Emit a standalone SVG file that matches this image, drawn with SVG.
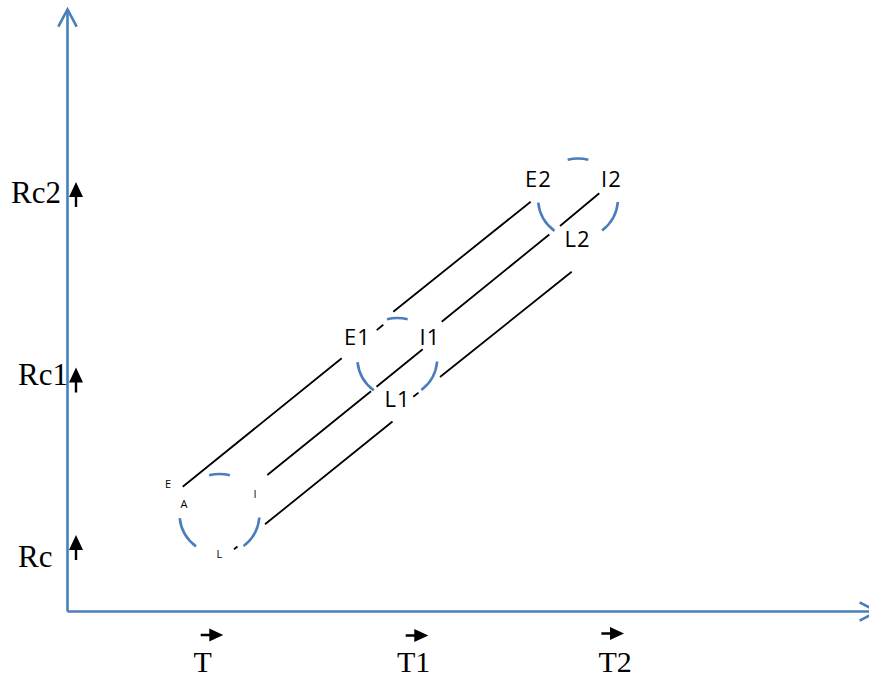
<svg xmlns="http://www.w3.org/2000/svg" width="869" height="679" viewBox="0 0 869 679">
<style>
.ax{stroke:#4A7EBB;stroke-width:2.6;fill:none}
.arc{stroke:#4A7EBB;stroke-width:2.6;fill:none}
.ln{stroke:#000;stroke-width:1.8;fill:none}
.tm{font-family:"Liberation Serif","Times New Roman",serif;font-size:31px;fill:#000}
.tb{font-size:30px}
.sn{font-family:"Open Sans","Noto Sans",sans-serif;font-size:22px;fill:#000;letter-spacing:1px}
.ss{font-family:"Open Sans","Noto Sans",sans-serif;font-size:11px;fill:#000}
</style>
<defs>
<path id="ua" d="M0,0 L7,15 L1.2,15 L1.2,25 L-1.2,25 L-1.2,15 L-7,15 Z" fill="#000"/>
<path id="ra" d="M0,0 L-14,-6.5 L-14,-1.2 L-22.6,-1.2 L-22.6,1.2 L-14,1.2 L-14,6.5 Z" fill="#000"/>
<g id="ring">
<path class="arc" d="M-10.35,-38.64 A40,40 0 0 1 10.35,-38.64"/>
<path class="arc" d="M39.85,3.49 A40,40 0 0 1 24.07,31.95"/>
<path class="arc" d="M-23.51,32.36 A40,40 0 0 1 -39.78,4.18"/>
</g>
</defs>
<g id="axes">
<path class="ax" d="M67.5,611.5 L67.5,10"/>
<path class="ax" d="M58.3,26.7 L67.5,9.5 L76.7,26.7"/>
<path class="ax" d="M67.5,611.5 L877,611.5"/>
<path class="ax" d="M859.6,602.3 L877,611.5 L859.6,620.7"/>
</g>
<g id="y-labels">
<text class="tm" x="11" y="203">Rc2</text>
<use href="#ua" x="76" y="182"/>
<text class="tm" x="18" y="385">Rc1</text>
<use href="#ua" x="76" y="367.5"/>
<text class="tm" x="18" y="566.5">Rc</text>
<use href="#ua" x="76" y="535"/>
</g>
<g id="x-labels">
<use href="#ra" x="223.3" y="635"/>
<text class="tm tb" x="193.5" y="672">T</text>
<use href="#ra" x="428.3" y="635.5"/>
<text class="tm tb" x="397" y="672">T1</text>
<use href="#ra" x="624" y="633.5"/>
<text class="tm tb" x="598.5" y="672">T2</text>
</g>
<g id="connectors">
<path class="ln" d="M182.7,486.7 L341.7,358.3 M376.7,330.1 L383.3,324.8 M393.3,311.7 L530.7,201.7"/>
<path class="ln" d="M267.3,475 L371,391.3 M376.5,386.8 L422.7,349.3 M441.7,321.7 L549.3,234.5 M560,226 L599.3,193.3"/>
<path class="ln" d="M234,549.3 L237.5,546.5 M265,524.3 L392.5,421.5 M413.3,396.7 L418.5,392.6 M440,377 L571.7,271.7"/>
</g>
<g id="node-0">
<use href="#ring" x="219.5" y="514"/>
<text class="ss" x="165" y="488">E</text>
<text class="ss" x="180.5" y="508">A</text>
<text class="ss" x="253.5" y="497.5">I</text>
<text class="ss" x="216.5" y="558">L</text>
</g>
<g id="node-1">
<use href="#ring" x="397.3" y="358"/>
<text class="sn" x="344" y="345">E1</text>
<text class="sn" x="419.5" y="345">I1</text>
<text class="sn" x="384.5" y="406.5">L1</text>
</g>
<g id="node-2">
<use href="#ring" x="578" y="198.5"/>
<text class="sn" x="525" y="186.5">E2</text>
<text class="sn" x="601" y="186.5">I2</text>
<text class="sn" x="564.5" y="246.5">L2</text>
</g>
</svg>
